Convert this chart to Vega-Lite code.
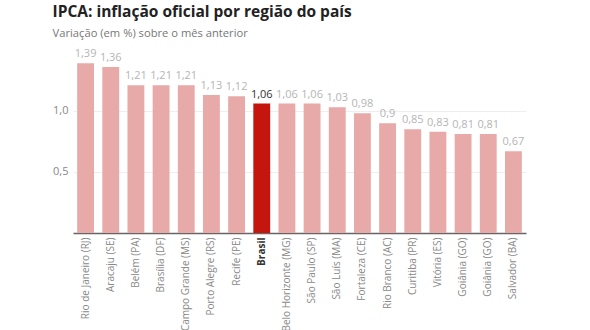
{
  "$schema": "https://vega.github.io/schema/vega-lite/v6.json",
  "autosize": "none",
  "width": 453,
  "height": 177,
  "padding": {"left": 73, "top": 56, "right": 64, "bottom": 97},
  "background": "white",
  "config": {
    "font": "Open Sans",
    "view": {"stroke": null},
    "locale": {"number": {"decimal": ",", "thousands": ".", "grouping": [3], "currency": ["R$", ""]}}
  },
  "title": {
    "text": "IPCA: inflação oficial por região do país",
    "subtitle": "Variação (em %) sobre o mês anterior",
    "anchor": "start",
    "offset": 9,
    "fontSize": 15.5,
    "fontWeight": "bold",
    "color": "#222",
    "subtitleFontSize": 11.2,
    "subtitleColor": "#777",
    "subtitlePadding": 8
  },
  "data": {
    "values": [
      {"cidade": "Rio de Janeiro (RJ)", "v": 1.39, "brasil": false},
      {"cidade": "Aracaju (SE)", "v": 1.36, "brasil": false},
      {"cidade": "Belém (PA)", "v": 1.21, "brasil": false},
      {"cidade": "Brasília (DF)", "v": 1.21, "brasil": false},
      {"cidade": "Campo Grande (MS)", "v": 1.21, "brasil": false},
      {"cidade": "Porto Alegre (RS)", "v": 1.13, "brasil": false},
      {"cidade": "Recife (PE)", "v": 1.12, "brasil": false},
      {"cidade": "Brasil", "v": 1.06, "brasil": true},
      {"cidade": "Belo Horizonte (MG)", "v": 1.06, "brasil": false},
      {"cidade": "São Paulo (SP)", "v": 1.06, "brasil": false},
      {"cidade": "São Luís (MA)", "v": 1.03, "brasil": false},
      {"cidade": "Fortaleza (CE)", "v": 0.98, "brasil": false},
      {"cidade": "Rio Branco (AC)", "v": 0.9, "brasil": false},
      {"cidade": "Curitiba (PR)", "v": 0.85, "brasil": false},
      {"cidade": "Vitória (ES)", "v": 0.83, "brasil": false},
      {"cidade": "Goiânia (GO)", "v": 0.81, "brasil": false},
      {"cidade": "Goiânia (GO) ", "v": 0.81, "brasil": false},
      {"cidade": "Salvador (BA)", "v": 0.67, "brasil": false}
    ]
  },
  "encoding": {
    "x": {
      "field": "cidade",
      "type": "nominal",
      "sort": null,
      "title": null,
      "scale": {"paddingInner": 0.33, "paddingOuter": 0.165},
      "axis": {
        "labelAngle": -90,
        "labelFontSize": 10,
        "labelColor": {"condition": {"test": "datum.value == 'Brasil'", "value": "#333"}, "value": "#888"},
        "labelFontWeight": {"condition": {"test": "datum.value == 'Brasil'", "value": "bold"}, "value": "normal"},
        "labelPadding": 4,
        "ticks": false,
        "domainColor": "#666",
        "domainWidth": 1.5,
        "grid": false
      }
    },
    "y": {
      "field": "v",
      "type": "quantitative",
      "title": null,
      "scale": {"domain": [0, 1.45], "nice": false},
      "axis": {
        "values": [0.5, 1.0],
        "format": ".1f",
        "domain": false,
        "ticks": false,
        "labelColor": "#888",
        "labelFontSize": 11,
        "labelPadding": 5,
        "gridColor": "#eeeeee"
      }
    }
  },
  "layer": [
    {
      "mark": {"type": "bar"},
      "encoding": {
        "color": {
          "field": "brasil",
          "type": "nominal",
          "scale": {"domain": [false, true], "range": ["#e8aaa8", "#c4160f"]},
          "legend": null
        }
      }
    },
    {
      "mark": {"type": "text", "baseline": "bottom", "dy": -4, "fontSize": 11},
      "encoding": {
        "text": {"field": "v", "type": "quantitative", "format": ""},
        "color": {"condition": {"test": "datum.brasil", "value": "#333"}, "value": "#b5b5b5"},
        "fontWeight": {"condition": {"test": "datum.brasil", "value": "bold"}, "value": "normal"}
      }
    }
  ]
}
